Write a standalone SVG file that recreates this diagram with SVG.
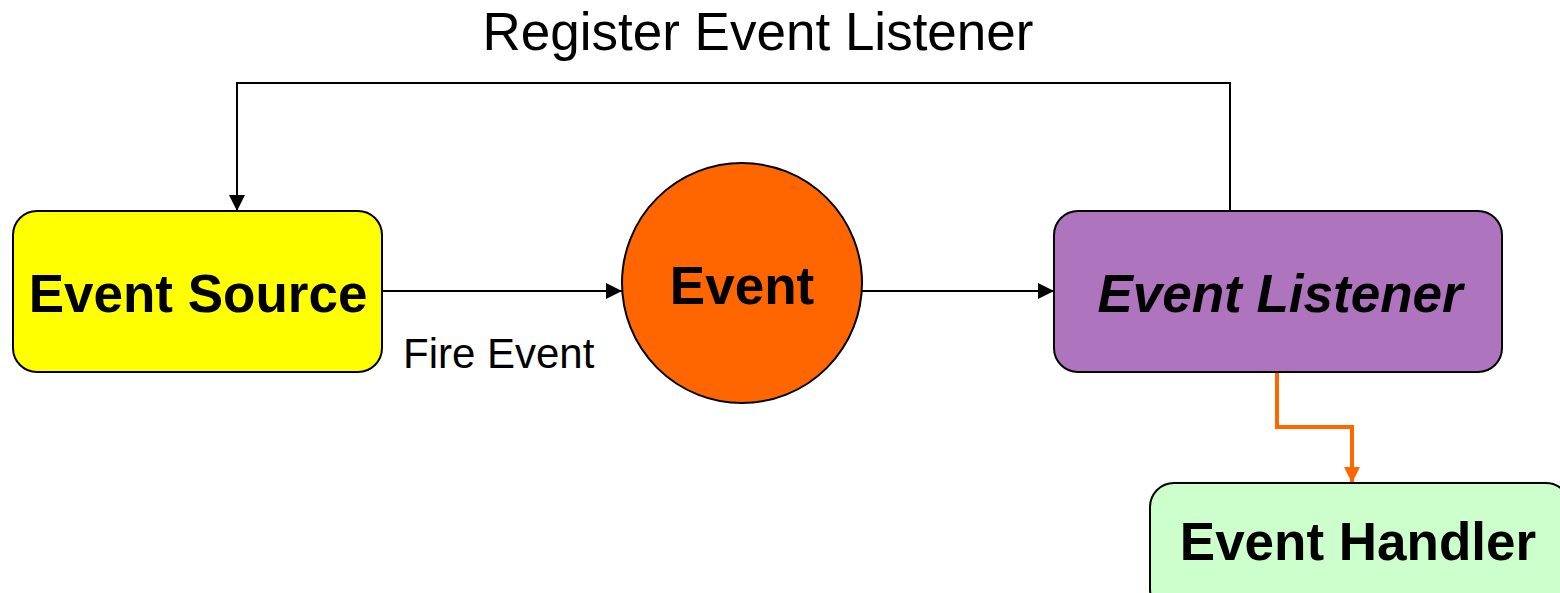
<svg xmlns="http://www.w3.org/2000/svg" width="1560" height="593" viewBox="0 0 1560 593">
  <defs>
    <marker id="arrowBlack" viewBox="0 0 10 10" refX="10" refY="5" markerWidth="16" markerHeight="16" markerUnits="userSpaceOnUse" orient="auto">
      <path d="M0,0 L10,5 L0,10 Z" fill="#000"/>
    </marker>
    <marker id="arrowOrange" viewBox="0 0 10 10" refX="10" refY="5" markerWidth="16" markerHeight="16" markerUnits="userSpaceOnUse" orient="auto">
      <path d="M0,0 L10,5 L0,10 Z" fill="#FF6600"/>
    </marker>
  </defs>
  <style>
    .box { stroke: #000; stroke-width: 2; }
    .label { font-family: "Liberation Sans", Arial, sans-serif; font-weight: bold; font-size: 53px; fill: #000; text-anchor: middle; }
    .plain { font-family: "Liberation Sans", Arial, sans-serif; fill: #000; }
    .conn { fill: none; stroke: #000; stroke-width: 2; }
    .conn-orange { fill: none; stroke: #FF6600; stroke-width: 4; }
  </style>
  <rect width="1560" height="593" fill="#fff"/>

  <g id="connectors">
    <path class="conn" d="M1230,211 V83 H237 V211" marker-end="url(#arrowBlack)"/>
    <path class="conn" d="M382,291 H622" marker-end="url(#arrowBlack)"/>
    <path class="conn" d="M862,291 H1054" marker-end="url(#arrowBlack)"/>
    <path class="conn-orange" d="M1277,372 V427 H1352 V483" marker-end="url(#arrowOrange)"/>
  </g>

  <text class="plain" x="758" y="50" font-size="53" text-anchor="middle">Register Event Listener</text>
  <text class="plain" x="403" y="368" font-size="42">Fire Event</text>

  <g id="event-source">
    <rect class="box" x="13" y="211" width="369" height="161" rx="24" fill="#FFFF00"/>
    <text class="label" x="198" y="312">Event Source</text>
  </g>

  <g id="event">
    <circle class="box" cx="742" cy="283" r="120" fill="#FF6600"/>
    <text class="label" x="742" y="304">Event</text>
  </g>

  <g id="event-listener">
    <rect class="box" x="1054" y="211" width="448" height="161" rx="24" fill="#AE74BE"/>
    <text class="label" x="1280" y="312" font-style="italic">Event Listener</text>
  </g>

  <g id="event-handler">
    <rect class="box" x="1150" y="483" width="420" height="130" rx="24" fill="#CCFFCC"/>
    <text class="label" x="1358" y="560">Event Handler</text>
  </g>
</svg>
